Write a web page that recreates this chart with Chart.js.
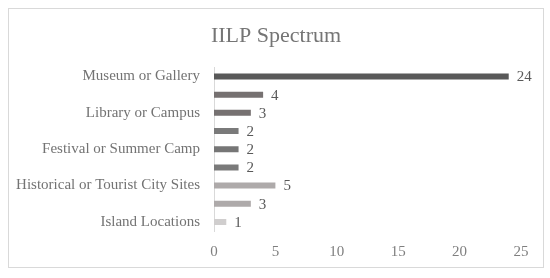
<!DOCTYPE html>
<html>
<head>
<meta charset="utf-8">
<script src="https://cdn.jsdelivr.net/npm/chart.js@4"></script>
<style>
    html, body { margin: 0; padding: 0; background: #fff; }
    #frame {
        position: absolute; left: 8px; top: 8px;
        width: 536px; height: 260px;
        border: 1px solid #d9d9d9; box-sizing: border-box;
    }
    #chart { display: block; }
</style>
</head>
<body>
<div id="frame"><canvas id="chart" width="534" height="258"></canvas></div>
<script>
// Categories top to bottom (unlabelled rows in the picture are left blank)
const categories = ['Museum or Gallery', '', 'Library or Campus', '', 'Festival or Summer Camp', '', 'Historical or Tourist City Sites', '', 'Island Locations'];
const counts = [24, 4, 3, 2, 2, 2, 5, 3, 1];
const barColors = ['#595959', '#767171', '#767171', '#7a7a7a', '#767676', '#7a7a7a', '#aeaaaa', '#aeaaaa', '#d0cece'];
const xTicks = [0, 5, 10, 15, 20, 25];

const serif = '"Liberation Serif", "DejaVu Serif", serif';
const textGrey = '#737373';

// Value labels to the right of each bar
const valueLabels = {
    id: 'valueLabels',
    afterDatasetsDraw(chart) {
        const ctx = chart.ctx;
        const meta = chart.getDatasetMeta(0);
        ctx.save();
        ctx.font = '15px ' + serif;
        ctx.fillStyle = '#595959';
        ctx.textAlign = 'left';
        ctx.textBaseline = 'middle';
        meta.data.forEach((bar, i) => {
            ctx.fillText(String(counts[i]), bar.x + 8, bar.y + 1);
        });
        ctx.restore();
    }
};

new Chart(document.getElementById('chart'), {
    type: 'bar',
    data: {
        labels: categories,
        datasets: [{
            data: counts,
            backgroundColor: barColors,
            borderWidth: 0,
            categoryPercentage: 1,
            barPercentage: 0.33
        }]
    },
    options: {
        indexAxis: 'y',
        responsive: false,
        animation: false,
        layout: { padding: 0 },
        plugins: {
            legend: { display: false },
            tooltip: { enabled: false },
            title: {
                display: true,
                text: 'IILP Spectrum',
                color: '#757575',
                font: { family: serif, size: 22, weight: 'normal' },
                padding: { top: 14, bottom: 18 }
            }
        },
        scales: {
            x: {
                min: 0,
                max: 25,
                afterBuildTicks(scale) {
                    scale.ticks = xTicks.map(v => ({ value: v }));
                },
                afterFit(scale) {
                    scale.height = 36;
                    scale.paddingRight = 22;
                },
                grid: { display: false, drawTicks: false },
                border: { display: false },
                ticks: {
                    color: '#7f7f7f',
                    padding: 12,
                    font: { family: serif, size: 15 }
                }
            },
            y: {
                afterFit(scale) { scale.width = 205; },
                grid: { display: false, drawTicks: false },
                border: { display: true, color: '#d9d9d9', width: 1 },
                ticks: {
                    autoSkip: false,
                    color: textGrey,
                    padding: 14,
                    font: { family: serif, size: 15 }
                }
            }
        }
    },
    plugins: [valueLabels]
});
</script>
</body>
</html>
